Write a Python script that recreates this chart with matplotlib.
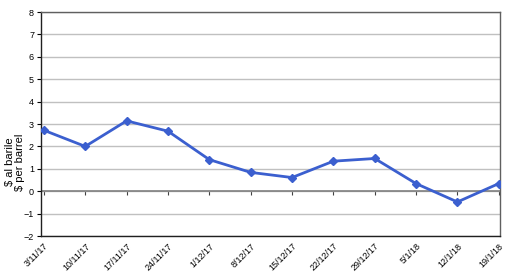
import matplotlib.pyplot as plt

dates = ["3/11/17", "10/11/17", "17/11/17", "24/11/17", "1/12/17", "8/12/17",
         "15/12/17", "22/12/17", "29/12/17", "5/1/18", "12/1/18", "19/1/18"]
spread = [2.72, 2.0, 3.14, 2.68, 1.41, 0.84, 0.61, 1.34, 1.46, 0.34, -0.48, 0.34]
y_ticks = [-2, -1, 0, 1, 2, 3, 4, 5, 6, 7, 8]

plt.rcParams["font.family"] = ["Liberation Sans", "DejaVu Sans"]

fig = plt.figure(figsize=(5.07, 2.77), dpi=100)
ax = fig.add_axes([41 / 507, 1 - 236 / 277, 459 / 507, 224 / 277])

x = list(range(len(dates)))
ax.set_xlim(-0.07, len(dates) - 1 + 0.03)
ax.set_ylim(-2, 8)
ax.set_yticks(y_ticks)
ax.yaxis.grid(True, color="#c0c0c0", linewidth=1.0)
ax.set_axisbelow(True)
ax.axhline(0, color="#808080", linewidth=1.2, zorder=1)

ax.plot(x, spread, color="#3b5fcf", linewidth=2.0, marker="D", markersize=4, zorder=3)

ax.set_xticks(x)
ax.set_xticklabels(dates, rotation=45, ha="right", rotation_mode="anchor", fontsize=6.5)
ax.tick_params(axis="x", length=0, pad=4)
ax.tick_params(axis="y", labelsize=6.5, length=3, width=0.8, pad=2)

# tick marks sit on the zero line
sec = ax.secondary_xaxis(0.2)
sec.set_xticks(x)
sec.tick_params(axis="x", length=3, width=0.8, labelbottom=False, color="#404040")
sec.spines["bottom"].set_visible(False)

for side in ["left", "bottom"]:
    ax.spines[side].set_color("#202020")
    ax.spines[side].set_linewidth(1.0)
for side in ["top", "right"]:
    ax.spines[side].set_color("#606060")
    ax.spines[side].set_linewidth(1.0)

ax.set_ylabel("\\$ al barile\n\\$ per barrel", fontsize=8, linespacing=1.0)
ax.yaxis.set_label_coords(-0.035, 0.33)

fig.savefig("out.png", dpi=100)
